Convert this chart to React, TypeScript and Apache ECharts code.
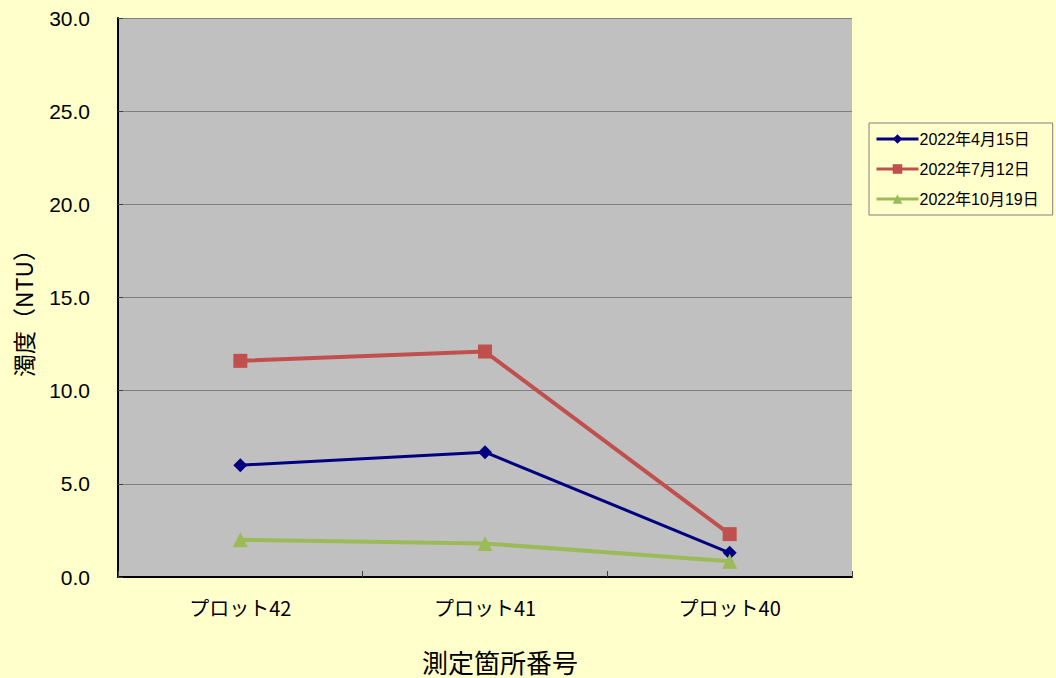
import React, { useEffect, useRef } from "react";
import * as echarts from "echarts";

const categories = ["プロット42", "プロット41", "プロット40"];
const seriesNames = ["2022年4月15日", "2022年7月12日", "2022年10月19日"];
const apr15 = [6.0, 6.7, 1.3];
const jul12 = [11.6, 12.1, 2.3];
const oct19 = [2.0, 1.8, 0.85];
const yTicks = { min: 0, max: 30, interval: 5 };

export default function App() {
  const ref = useRef<HTMLDivElement>(null);
  useEffect(() => {
    const chart = echarts.init(ref.current!, null, { renderer: "svg" });
    const font = "'Noto Sans CJK JP', 'Liberation Sans', sans-serif";
    const mk = (name: string, data: number[], color: string, symbol: string, size: number, width: number) => ({
      name,
      type: "line",
      data,
      symbol,
      symbolSize: size,
      lineStyle: { color, width },
      itemStyle: { color },
      z: 3,
    });
    chart.setOption({
      animation: false,
      backgroundColor: "#FFFFCC",
      textStyle: { fontFamily: font },
      grid: {
        left: 118,
        right: 204,
        top: 18,
        bottom: 101,
        outerBoundsMode: "none",
        containLabel: false,
        show: true,
        backgroundColor: "#C0C0C0",
        borderColor: "#404040",
        borderWidth: 0,
      },
      legend: {
        orient: "vertical",
        left: 869,
        top: 123,
        padding: [8, 14, 8, 6],
        itemGap: 14,
        itemWidth: 42,
        itemHeight: 12,
        backgroundColor: "#FFFFCC",
        borderColor: "#808080",
        borderWidth: 1,
        borderRadius: 0,
        lineStyle: { width: 3 },
        textStyle: { fontSize: 16, color: "#000", fontFamily: "'Liberation Sans', 'Noto Sans CJK JP', sans-serif", padding: [0, 0, 0, -4] },
        data: seriesNames,
      },
      xAxis: {
        type: "category",
        data: categories,
        boundaryGap: true,
        name: "測定箇所番号",
        nameLocation: "middle",
        nameGap: 71,
        nameTextStyle: { fontSize: 26, color: "#000", padding: [0, 0, 0, 30] },
        axisLine: { show: true, lineStyle: { color: "#000", width: 2 } },
        axisTick: { show: true, inside: true, length: 6, lineStyle: { color: "#404040" }, alignWithLabel: false },
        axisLabel: { fontSize: 20, color: "#000", margin: 20 },
        splitLine: { show: false },
      },
      yAxis: {
        type: "value",
        min: yTicks.min,
        max: yTicks.max,
        interval: yTicks.interval,
        name: "濁度（NTU）",
        nameLocation: "middle",
        nameGap: 84,
        nameRotate: 90,
        nameTextStyle: { fontSize: 23, color: "#000", padding: [0, 20, 0, 0] },
        axisLine: { show: true, lineStyle: { color: "#000", width: 2 } },
        axisTick: { show: true, inside: true, length: 5, lineStyle: { color: "#404040" } },
        axisLabel: { fontSize: 21, color: "#000", margin: 28, formatter: (v: number) => v.toFixed(1), fontFamily: "'Liberation Sans', sans-serif" },
        splitLine: { show: true, lineStyle: { color: "#808080", width: 1 } },
      },
      series: [
        mk(seriesNames[0], apr15, "#000080", "diamond", 14, 3),
        mk(seriesNames[1], jul12, "#C0504D", "rect", 14, 4),
        mk(seriesNames[2], oct19, "#9BBB59", "triangle", 15, 4),
      ],
    });
    return () => chart.dispose();
  }, []);
  return <div ref={ref} style={{ width: 1056, height: 678, position: "absolute", left: 0, top: 0 }} />;
}
